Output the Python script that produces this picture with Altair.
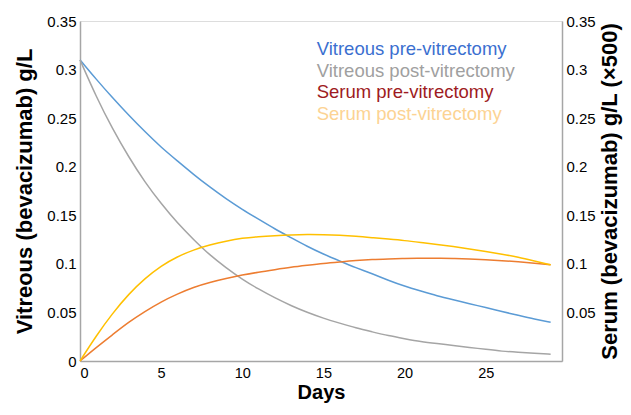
import altair as alt
import pandas as pd

days = list(range(30))
vit_pre = [0.310, 0.290, 0.271, 0.253, 0.236, 0.220, 0.206, 0.192, 0.179, 0.167,
           0.156, 0.146, 0.136, 0.127, 0.118, 0.110, 0.103, 0.096, 0.090, 0.083,
           0.077, 0.072, 0.067, 0.063, 0.059, 0.055, 0.051, 0.047, 0.043, 0.040]
vit_post = [0.310, 0.272, 0.239, 0.210, 0.184, 0.162, 0.142, 0.125, 0.109, 0.096,
            0.084, 0.074, 0.065, 0.057, 0.050, 0.044, 0.039, 0.034, 0.030, 0.026,
            0.023, 0.020, 0.018, 0.016, 0.014, 0.012, 0.010, 0.009, 0.008, 0.007]
ser_pre = [0.000, 0.0140, 0.027, 0.040, 0.051, 0.061, 0.069, 0.076, 0.081, 0.085,
           0.0885, 0.0915, 0.094, 0.0965, 0.0985, 0.1005, 0.102, 0.1035, 0.1045, 0.105,
           0.1055, 0.1058, 0.1058, 0.1055, 0.105, 0.1043, 0.1033, 0.1022, 0.1008, 0.099]
ser_post = [0.000, 0.026, 0.049, 0.069, 0.085, 0.098, 0.1075, 0.1145, 0.1195, 0.1235,
            0.1265, 0.128, 0.129, 0.1298, 0.1302, 0.1300, 0.1295, 0.1285, 0.127, 0.1255,
            0.124, 0.122, 0.120, 0.1178, 0.1153, 0.1127, 0.110, 0.107, 0.103, 0.099]

series_names = ["Vitreous pre-vitrectomy", "Vitreous post-vitrectomy",
                "Serum pre-vitrectomy", "Serum post-vitrectomy"]
line_colors = ["#5b9bd5", "#a5a5a5", "#ed7d31", "#ffc000"]
legend_colors = ["#3b6fd0", "#a0a0a0", "#9e1b22", "#fcd393"]
x_ticks = [0, 5, 10, 15, 20, 25]
left_ticks = [0, 0.05, 0.1, 0.15, 0.2, 0.25, 0.3, 0.35]
right_ticks = [0.05, 0.1, 0.15, 0.2, 0.25, 0.3, 0.35]

rows = []
for name, vals in zip(series_names, [vit_pre, vit_post, ser_pre, ser_post]):
    for d, v in zip(days, vals):
        rows.append({"day": d, "value": v, "series": name})
df = pd.DataFrame(rows)

FONT = "Liberation Sans"
AX = dict(domainColor="#a6a6a6", domainWidth=1.5, ticks=False, grid=False,
          labelFont=FONT, labelFontSize=15, labelColor="#000000",
          titleFont=FONT, titleFontSize=22, titleFontWeight="bold", titleColor="#000000")

xenc = alt.X("day:Q", scale=alt.Scale(domain=[0, 29.7], nice=False, zero=True),
             axis=alt.Axis(values=x_ticks, title="Days", labelPadding=5, titlePadding=3,
                           **{**AX, "titleFontSize": 20, "labelFontSize": 14.5}))
color = alt.Color("series:N", scale=alt.Scale(domain=series_names, range=line_colors), legend=None)

vit = alt.Chart(df).transform_filter(
    alt.FieldOneOfPredicate(field="series", oneOf=series_names[:2])
).mark_line(strokeWidth=1.5, interpolate="basis").encode(
    x=xenc,
    y=alt.Y("value:Q", scale=alt.Scale(domain=[0, 0.35], nice=False),
            axis=alt.Axis(values=left_ticks, format="~g", orient="left",
                          title="Vitreous (bevacizumab) g/L", labelPadding=4, titlePadding=10, **AX)),
    color=color,
)

ser = alt.Chart(df).transform_filter(
    alt.FieldOneOfPredicate(field="series", oneOf=series_names[2:])
).mark_line(strokeWidth=1.5, interpolate="basis").encode(
    x=xenc,
    y=alt.Y("value:Q", scale=alt.Scale(domain=[0, 0.35], nice=False),
            axis=alt.Axis(values=right_ticks, format="~g", orient="right",
                          title="Serum (bevacizumab) g/L (×500)", labelPadding=4,
                          titlePadding=4, titleAngle=270, titleBaseline="top", **AX)),
    color=color,
)

legend_layers = []
for i, (name, c) in enumerate(zip(series_names, legend_colors)):
    legend_layers.append(
        alt.Chart(pd.DataFrame({"t": [name]})).mark_text(
            align="left", baseline="alphabetic", font=FONT, fontSize=18.5, color=c
        ).encode(x=alt.value(236.7), y=alt.value(34 + i * 21.7), text="t:N")
    )

chart = alt.layer(vit, ser, *legend_layers).resolve_scale(y="independent").properties(
    width=482, height=340,
    autosize=alt.AutoSizeParams(type="none"),
    padding={"left": 72, "top": 13, "right": 61, "bottom": 46},
).configure_view(stroke=None).configure(background="white")

chart.save("out.html", embed_options={"renderer": "svg", "actions": False})
